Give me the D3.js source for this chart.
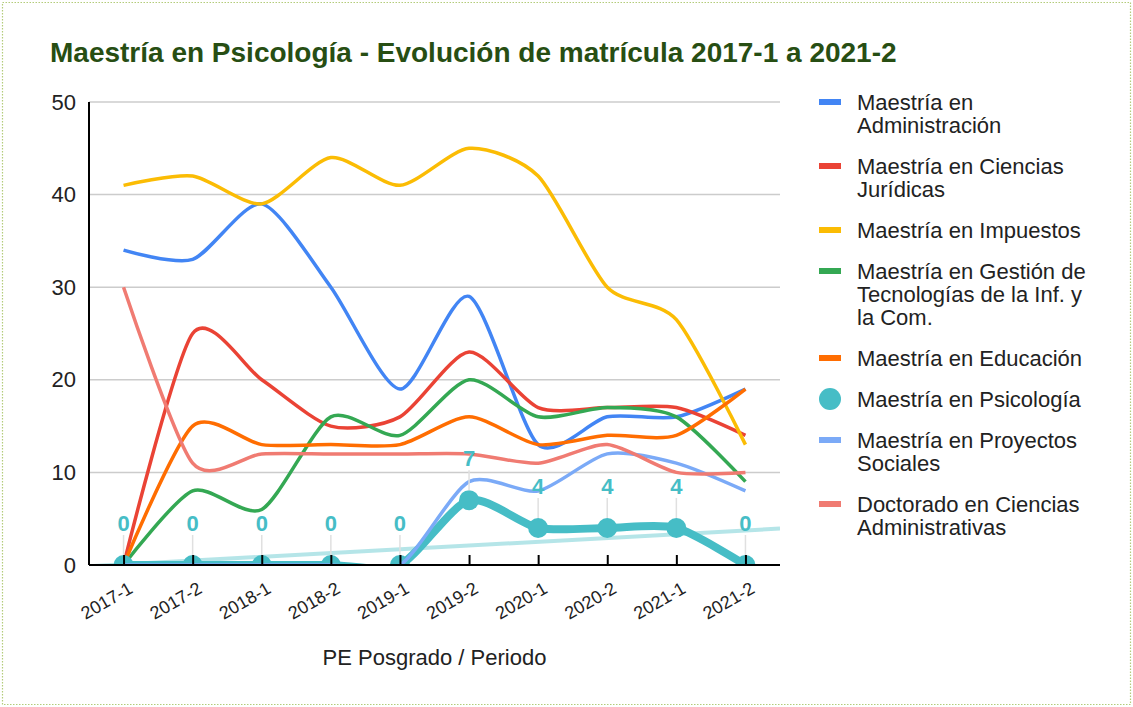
<!DOCTYPE html>
<html>
<head>
<meta charset="utf-8">
<script src="https://cdn.jsdelivr.net/npm/d3@7"></script>
<style>
  body { margin: 0; background: #fff; font-family: Arial, "Liberation Sans", sans-serif; }
</style>
</head>
<body>
<div id="chart-area"></div>
<script>
const periods = ["2017-1", "2017-2", "2018-1", "2018-2", "2019-1", "2019-2", "2020-1", "2020-2", "2021-1", "2021-2"];

const administracion = [34, 33, 39, 30, 19, 29, 13, 16, 16, 19];
const cienciasJuridicas = [0, 25, 20, 15, 16, 23, 17, 17, 17, 14];
const impuestos = [41, 42, 39, 44, 41, 45, 42, 30, 26.5, 13];
const gestionTic = [0, 8, 6, 16, 14, 20, 16, 17, 16, 9];
const educacion = [0, 15, 13, 13, 13, 16, 13, 14, 14, 19];
const psicologia = [0, 0, 0, 0, 0, 7, 4, 4, 4, 0];
const proyectosSociales = [0, 0, 0, 0, 0, 9, 8, 12, 11, 8];
const doctoradoAdmin = [30, 11, 12, 12, 12, 12, 11, 13, 10, 10];

const seriesNames = [
    "Maestría en Administración",
    "Maestría en Ciencias Jurídicas",
    "Maestría en Impuestos",
    "Maestría en Gestión de Tecnologías de la Inf. y la Com.",
    "Maestría en Educación",
    "Maestría en Psicología",
    "Maestría en Proyectos Sociales",
    "Doctorado en Ciencias Administrativas"
];
const seriesValues = [administracion, cienciasJuridicas, impuestos, gestionTic, educacion, psicologia, proyectosSociales, doctoradoAdmin];
const yTicks = [0, 10, 20, 30, 40, 50];

const title = "Maestría en Psicología - Evolución de matrícula 2017-1 a 2021-2";
const xTitle = "PE Posgrado / Periodo";

const colors = ["#4285f4", "#ea4335", "#fbbc04", "#34a853", "#ff6d01", "#46bdc6", "#7baaf7", "#f07b72"];
const focus = 5;

const W = 1133, H = 707;
const plot = {left: 89, right: 780, top: 102, bottom: 565};
const font = "Arial, 'Liberation Sans', sans-serif";

const series = seriesNames.map((name, i) => ({
    name,
    color: colors[i],
    values: seriesValues[i].map((v, j) => ({period: periods[j], value: v}))
}));

const svg = d3.select("#chart-area").append("svg")
    .attr("width", W)
    .attr("height", H);

svg.append("rect")
    .attr("x", 2.5).attr("y", 2.5)
    .attr("width", W - 5).attr("height", H - 5)
    .attr("fill", "none")
    .attr("stroke", "#b3cc7a")
    .attr("stroke-width", 1.2)
    .attr("stroke-dasharray", "1.5,1.5");

svg.append("text")
    .attr("x", 50).attr("y", 62)
    .attr("font-size", 28)
    .attr("font-weight", "bold")
    .attr("fill", "#274e13")
    .text(title);

const x = d3.scalePoint().domain(periods).range([plot.left, plot.right]).padding(0.5);
const y = d3.scaleLinear().domain([0, 50]).range([plot.bottom, plot.top]);

// gridlines
svg.append("g").selectAll("line").data(yTicks).join("line")
    .attr("x1", plot.left).attr("x2", plot.right)
    .attr("y1", d => y(d)).attr("y2", d => y(d))
    .attr("stroke", "#cccccc")
    .attr("stroke-width", 1.5);

// y axis labels
const yAxis = d3.axisLeft(y).tickValues(yTicks).tickSize(0).tickPadding(13);
const yG = svg.append("g").attr("transform", `translate(${plot.left},0)`).call(yAxis);
yG.select(".domain").remove();
yG.selectAll("text").attr("font-size", 22).attr("fill", "#222").attr("font-family", font);

svg.append("defs").append("clipPath").attr("id", "plot-clip")
    .append("rect")
    .attr("x", plot.left).attr("y", plot.top - 10)
    .attr("width", plot.right - plot.left).attr("height", plot.bottom - plot.top + 10);

const chartG = svg.append("g").attr("clip-path", "url(#plot-clip)");

// linear trendline for the highlighted series
const xs = psicologia.map((v, i) => i);
const mx = d3.mean(xs), my = d3.mean(psicologia);
const slope = d3.sum(xs, i => (i - mx) * (psicologia[i] - my)) / d3.sum(xs, i => (i - mx) * (i - mx));
const intercept = my - slope * mx;
const idxToX = d3.scaleLinear().domain([0, periods.length - 1]).range([x(periods[0]), x(periods[periods.length - 1])]);
chartG.append("line")
    .attr("x1", idxToX(-0.5)).attr("y1", y(intercept + slope * -0.5))
    .attr("x2", idxToX(periods.length - 0.5)).attr("y2", y(intercept + slope * (periods.length - 0.5)))
    .attr("stroke", colors[focus])
    .attr("stroke-opacity", 0.4)
    .attr("stroke-width", 4);

const smooth = d3.line()
    .x(d => x(d.period))
    .y(d => y(d.value))
    .curve(d3.curveCardinal.tension(0.25));

series.forEach((s, i) => {
    if (i === focus) {
        chartG.append("path")
            .attr("d", smooth(s.values))
            .attr("fill", "none")
            .attr("stroke", s.color)
            .attr("stroke-width", 8)
            .attr("stroke-linejoin", "round");
        chartG.selectAll(".pt").data(s.values).join("circle")
            .attr("class", "pt")
            .attr("cx", d => x(d.period))
            .attr("cy", d => y(d.value))
            .attr("r", 10)
            .attr("fill", s.color);
    } else {
        chartG.append("path")
            .attr("d", smooth(s.values))
            .attr("fill", "none")
            .attr("stroke", s.color)
            .attr("stroke-width", 3.5);
    }
});

// x axis with upward ticks
const xAxis = d3.axisBottom(x).tickSize(-10).tickSizeOuter(0);
const xG = svg.append("g").attr("transform", `translate(0,${plot.bottom})`).call(xAxis);
xG.select(".domain").attr("stroke", "#000").attr("stroke-width", 2)
    .attr("d", `M${plot.left},0H${plot.right}`);
xG.selectAll(".tick line").attr("stroke", "#000").attr("stroke-width", 2);
xG.selectAll(".tick text")
    .attr("font-size", 18)
    .attr("fill", "#222")
    .attr("font-family", font)
    .attr("text-anchor", "end")
    .attr("y", 0).attr("dy", 0)
    .attr("transform", "translate(10,27) rotate(-30)");

// y axis line
svg.append("line")
    .attr("x1", plot.left).attr("x2", plot.left)
    .attr("y1", plot.top).attr("y2", plot.bottom)
    .attr("stroke", "#000").attr("stroke-width", 2);

// data labels for highlighted series
const labelG = svg.append("g");
const focusVals = series[focus].values;
labelG.selectAll("line").data(focusVals).join("line")
    .attr("x1", d => x(d.period)).attr("x2", d => x(d.period))
    .attr("y1", d => y(d.value) - 30).attr("y2", d => y(d.value) - 10)
    .attr("stroke", "#e0e0e0").attr("stroke-width", 1.5);
labelG.selectAll("text").data(focusVals).join("text")
    .attr("x", d => x(d.period))
    .attr("y", d => y(d.value) - 34)
    .attr("text-anchor", "middle")
    .attr("font-size", 22)
    .attr("font-weight", "bold")
    .attr("fill", colors[focus])
    .text(d => d.value);

svg.append("text")
    .attr("x", (plot.left + plot.right) / 2)
    .attr("y", 665)
    .attr("text-anchor", "middle")
    .attr("font-size", 22)
    .attr("fill", "#222")
    .text(xTitle);

// legend with word wrap
const legend = svg.append("g");
let ly = 102;
const lineH = 23;
series.forEach((s, i) => {
    const t = legend.append("text")
        .attr("x", 857)
        .attr("font-size", 22)
        .attr("fill", "#222");
    const words = s.name.split(" ");
    const lines = [];
    let cur = "";
    words.forEach(w => {
        const test = cur ? cur + " " + w : w;
        t.text(test);
        if (t.node().getComputedTextLength() > 240 && cur) {
            lines.push(cur);
            cur = w;
        } else {
            cur = test;
        }
    });
    lines.push(cur);
    t.text(null);
    lines.forEach((ln, k) => {
        t.append("tspan").attr("x", 857).attr("y", ly + k * lineH).attr("dy", "0.36em").text(ln);
    });
    if (i === focus) {
        legend.append("circle").attr("cx", 830).attr("cy", ly).attr("r", 11).attr("fill", s.color);
    } else {
        legend.append("rect").attr("x", 819).attr("y", ly - 3).attr("width", 22).attr("height", 6).attr("fill", s.color);
    }
    ly += lines.length * lineH + 18;
});
</script>
</body>
</html>
